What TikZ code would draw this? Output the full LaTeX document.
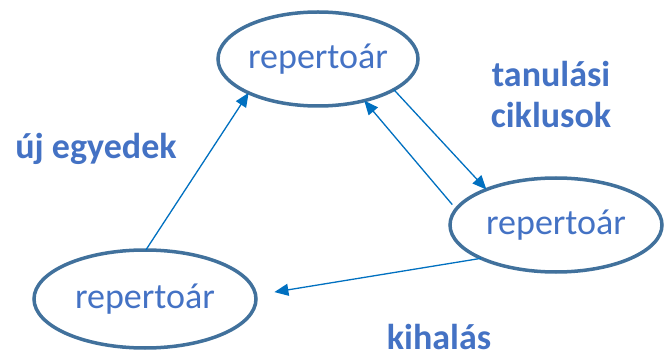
\documentclass[tikz,border=0pt]{standalone}
\usepackage{fontspec}
\setmainfont{Carlito}
\usetikzlibrary{arrows.meta,shapes.geometric}
\definecolor{ringblue}{HTML}{41719C}
\definecolor{textblue}{HTML}{4472C4}
\definecolor{arrowblue}{HTML}{0070C0}
\tikzset{
  repbox/.style={draw=ringblue, ellipse, line width=3.5pt, inner sep=0pt, outer sep=0pt,
    text=textblue, font=\fontsize{36}{40}\selectfont},
  steplabel/.style={text=textblue, font=\fontsize{36}{41}\selectfont\bfseries, align=center},
  flow/.style={draw=arrowblue, line width=1.3pt, -{Triangle[length=14pt,width=12pt]}}
}
\begin{document}
\begin{tikzpicture}[x=1pt,y=1pt]
				\useasboundingbox (0,0) rectangle (666,359);
				\node (rep1) [repbox, minimum width=200pt, minimum height=94pt] at (318,300) {repertoár};
				\node (rep2) [repbox, minimum width=212pt, minimum height=94pt] at (556,134) {repertoár};
				\node (rep3) [repbox, minimum width=222pt, minimum height=98pt] at (145,60) {repertoár};
				
				\node (cycles) [steplabel] at (551,264) {tanulási\\ciklusok};
				\node (newind) [steplabel] at (96,210) {új egyedek};
				\node (extinct) [steplabel, inner sep=1pt] at (439,22) {kihalás};
				
				% Arrows
				\draw[flow] (rep3.89) -- (rep1.206);
				\draw[flow] (rep1.338) -- (rep2.153);
				\draw[flow, shorten <=6pt] (rep2.171) -- (rep1.318);
				\draw[flow, shorten >=19pt] (rep2.204) -- (rep3.2);
				
			\end{tikzpicture}
\end{document}
